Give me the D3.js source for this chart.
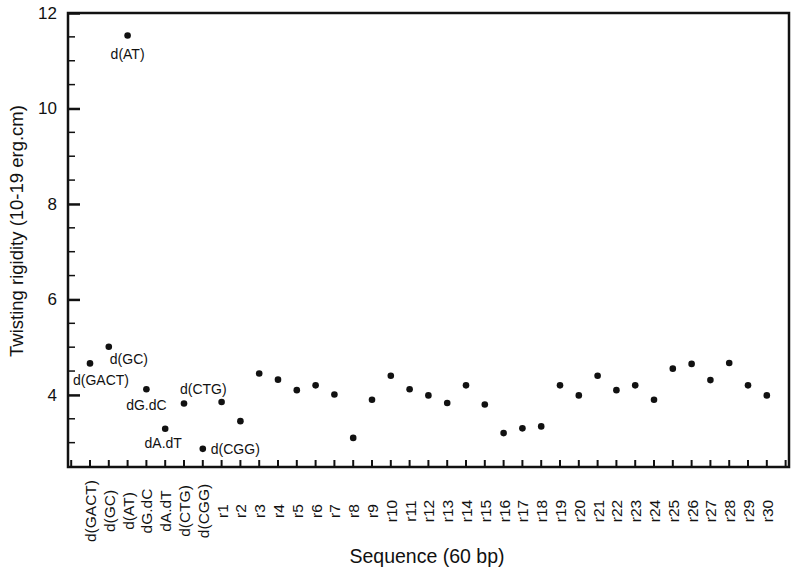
<!DOCTYPE html>
<html>
<head>
<meta charset="utf-8">
<script src="https://cdn.jsdelivr.net/npm/d3@7"></script>
<style>
  body { margin: 0; background: #fff; }
  text { font-family: "Liberation Sans", Arial, sans-serif; fill: #111; }
</style>
</head>
<body>
<div id="chart"></div>
<script>
// chart size
var svgWidth = 800;
var svgHeight = 574;

var margin = { top: 13, right: 11, bottom: 107, left: 68 };
var width = svgWidth - margin.left - margin.right;
var height = svgHeight - margin.top - margin.bottom;

// categories along x
var sequences = ["d(GACT)", "d(GC)", "d(AT)", "dG.dC", "dA.dT", "d(CTG)", "d(CGG)",
  "r1", "r2", "r3", "r4", "r5", "r6", "r7", "r8", "r9", "r10",
  "r11", "r12", "r13", "r14", "r15", "r16", "r17", "r18", "r19", "r20",
  "r21", "r22", "r23", "r24", "r25", "r26", "r27", "r28", "r29", "r30"];

// twisting rigidity values
var rigidity = [4.66, 5.01, 11.53, 4.12, 3.29, 3.82, 2.87,
  3.85, 3.45, 4.45, 4.32, 4.10, 4.20, 4.01, 3.10, 3.90, 4.40,
  4.12, 3.99, 3.83, 4.20, 3.80, 3.20, 3.30, 3.34, 4.20, 3.99,
  4.40, 4.10, 4.20, 3.90, 4.55, 4.65, 4.31, 4.67, 4.20, 3.99];

// in-plot point labels
var pointLabels = ["d(GACT)", "d(GC)", "d(AT)", "dG.dC", "dA.dT", "d(CTG)", "d(CGG)"];

var yTicks = [4, 6, 8, 10, 12];

var svg = d3.select("#chart")
  .append("svg")
  .attr("width", svgWidth)
  .attr("height", svgHeight);

var chartGroup = svg.append("g")
  .attr("transform", `translate(${margin.left}, ${margin.top})`);

var xScale = d3.scaleLinear()
  .domain([-1.17, 37.18])
  .range([0, width]);

var yScale = d3.scaleLinear()
  .domain([2.49, 12])
  .range([height, 0]);

// frame
chartGroup.append("rect")
  .attr("x", 0)
  .attr("y", 0)
  .attr("width", width)
  .attr("height", height)
  .attr("fill", "none")
  .attr("stroke", "#111")
  .attr("stroke-width", 2.5);

// y axis major ticks (inward)
var leftAxis = d3.axisLeft(yScale)
  .tickValues(yTicks)
  .tickSizeInner(-12)
  .tickSizeOuter(0)
  .tickPadding(24)
  .tickFormat(d3.format("d"));

var yAxis = chartGroup.append("g").call(leftAxis);
yAxis.select(".domain").remove();
yAxis.selectAll("line").attr("stroke", "#111").attr("stroke-width", 2.5);
yAxis.selectAll("text").attr("font-size", 17).attr("dx", 13);

// y minor ticks every 0.5
var minorY = d3.range(3, 12, 0.5).filter(d => yTicks.indexOf(d) < 0);
chartGroup.append("g").selectAll("line")
  .data(minorY)
  .enter()
  .append("line")
  .attr("x1", 0)
  .attr("x2", 7)
  .attr("y1", d => yScale(d))
  .attr("y2", d => yScale(d))
  .attr("stroke", "#111")
  .attr("stroke-width", 1.5);

// x ticks (one per category, plus ends)
var xTickPos = d3.range(-1, 38);
chartGroup.append("g").selectAll("line")
  .data(xTickPos)
  .enter()
  .append("line")
  .attr("x1", d => xScale(d))
  .attr("x2", d => xScale(d))
  .attr("y1", height)
  .attr("y2", height - 7)
  .attr("stroke", "#111")
  .attr("stroke-width", 2);

// x tick labels, rotated and centred on one line
chartGroup.append("g").selectAll("text")
  .data(sequences)
  .enter()
  .append("text")
  .attr("transform", (d, i) => `translate(${xScale(i) + 6}, ${height + 44}) rotate(-90)`)
  .attr("text-anchor", "middle")
  .attr("font-size", 15.5)
  .text(d => d);

// points
chartGroup.append("g").selectAll("circle")
  .data(rigidity)
  .enter()
  .append("circle")
  .attr("cx", (d, i) => xScale(i))
  .attr("cy", d => yScale(d))
  .attr("r", 3.3)
  .attr("fill", "#111");

// point label offsets: [dx, dy, anchor]
var labelPlace = [
  [11, 22, "middle"],
  [1, 17, "start"],
  [0, 24, "middle"],
  [0, 21, "middle"],
  [-2, 19, "middle"],
  [-4, -10, "start"],
  [8, 5, "start"]
];

chartGroup.append("g").selectAll("text")
  .data(pointLabels)
  .enter()
  .append("text")
  .attr("x", (d, i) => xScale(i) + labelPlace[i][0])
  .attr("y", (d, i) => yScale(rigidity[i]) + labelPlace[i][1])
  .attr("text-anchor", (d, i) => labelPlace[i][2])
  .attr("font-size", 14)
  .text(d => d);

// axis titles
svg.append("text")
  .attr("x", 427)
  .attr("y", 563)
  .attr("text-anchor", "middle")
  .attr("font-size", 19.5)
  .text("Sequence (60 bp)");

svg.append("text")
  .attr("transform", `translate(23, 231) rotate(-90)`)
  .attr("text-anchor", "middle")
  .attr("font-size", 18.5)
  .text("Twisting rigidity (10-19 erg.cm)");
</script>
</body>
</html>
